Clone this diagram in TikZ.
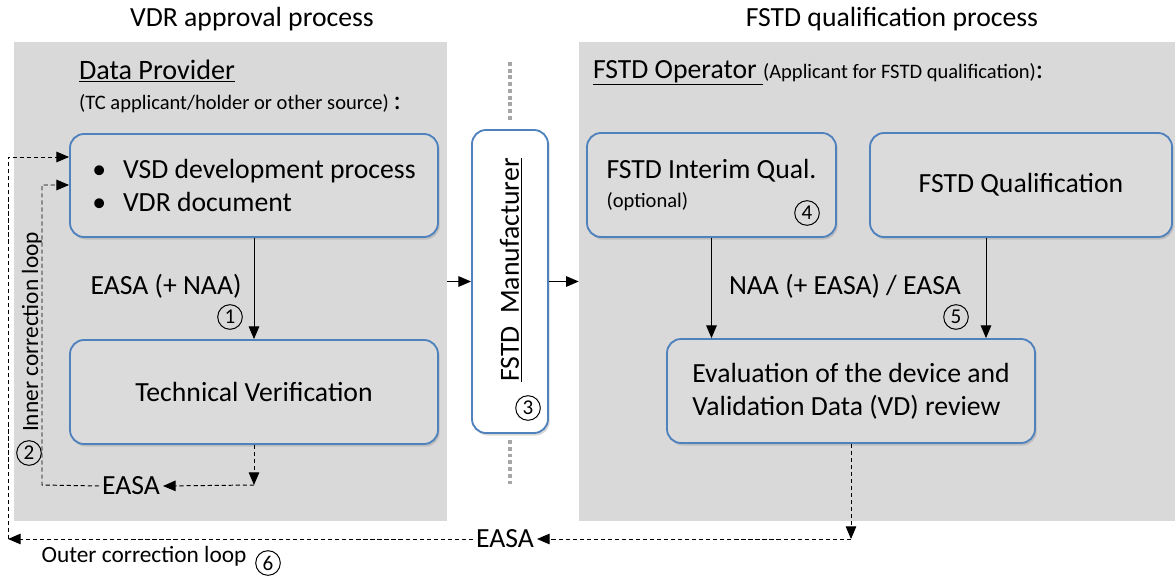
\documentclass[tikz,border=0pt]{standalone}
\usepackage{fontspec}
\setmainfont{Carlito}
\usepackage{tikz}
\usetikzlibrary{arrows.meta,shadows,fit}
\definecolor{panelgray}{HTML}{D9D9D9}
\definecolor{boxgray}{HTML}{DBDBDB}
\definecolor{boxblue}{HTML}{4F81BD}
\definecolor{dotgray}{HTML}{A6A6A6}
\newcommand{\pxu}{0.025cm}
\newcommand{\fmain}{\fontsize{19.7}{23.5}\selectfont}
\newcommand{\fhead}{\fontsize{20}{24}\selectfont}
\newcommand{\fsub}{\fontsize{14.6}{17}\selectfont}
\newcommand{\floop}{\fontsize{16.6}{20}\selectfont}
\tikzset{
  panel/.style={fill=panelgray, inner sep=0pt},
  box/.style={draw=boxblue, line width=1.3pt, rounded corners=0.35cm, fill=boxgray,
    drop shadow={shadow xshift=1.2pt, shadow yshift=-1.8pt, opacity=0.3},
    inner sep=0pt, align=center, font=\fmain},
  ttl/.style={font=\fmain, inner sep=0pt},
  lab/.style={font=\fmain, inner sep=2pt},
  numc/.style={circle, draw, line width=0.7pt, inner sep=0pt, minimum size=17.5pt,
    font=\fontsize{15}{15}\selectfont},
  arr/.style={line width=0.7pt, -{Triangle[length=9pt,width=7.5pt]}},
  darr/.style={arr, dash pattern=on 3pt off 2pt},
  dots/.style={draw=dotgray, line width=2.8pt, dash pattern=on 2.8pt off 2pt},
}

\begin{document}
\begin{tikzpicture}[x=\pxu, y=-\pxu]
  \useasboundingbox (0,0) rectangle (1175,576);
  % the two process panels
  \node[panel, fit={(14,42) (447,521)}] (pl) {};
  \node[panel, fit={(579,42) (1175,521)}] (pr) {};
  \node[ttl] (t1) at (252,19) {VDR approval process};
  \node[ttl] (t2) at (892,19) {FSTD qualification process};

  % data provider
  \node[lab, font=\fhead, anchor=west] (dp) at (76,71) {\underline{Data Provider}};
  \node[lab, font=\fsub, anchor=west] (dpsub) at (76,104) {(TC applicant/holder or other source) {\fmain:}};
  \node[box, align=left, minimum width=368*\pxu, minimum height=103*\pxu] (vsd) at (254,185.5)
    {\textbullet\hspace{12pt}VSD development process\\\textbullet\hspace{12pt}VDR document};
  \node[box, minimum width=368*\pxu, minimum height=104*\pxu] (tv) at (254,392) {Technical Verification};
  \draw[arr] (vsd.south) -- (tv.north);
  \node[lab] (e1) at (166,286) {EASA (+ NAA)};
  \node[numc] (n1) at (230,317) {1};

  % inner loop
  \coordinate (c1) at (254,485);
  \coordinate (i1) at (42,485);
  \coordinate (i2) at (42,185);
  \node[lab] (easa1) at (131,486) {EASA};
  \draw[darr] (tv.south) -- (c1);
  \draw[darr] (c1) -- (easa1.east);
  \draw[darr] (easa1.west) -- (i1) -- (i2) -- (i2 -| vsd.west);
  \node[lab, font=\floop, rotate=90] (il) at (32,332) {Inner correction loop};
  \node[numc] (n2) at (29,453) {2};

  % manufacturer
  \node[box, fill=white, minimum width=76*\pxu, minimum height=303*\pxu] (mf) at (510,281.5) {};
  \node[lab, rotate=90] (mft) at (511,270) {\underline{FSTD\ \ Manufacturer}};
  \node[numc] (n3) at (528,408) {3};
  \coordinate (d1) at (510,62);
  \coordinate (d2) at (510,122);
  \coordinate (d3) at (510,440);
  \coordinate (d4) at (510,486);
  \draw[dots] (d1) -- (d2);
  \draw[dots] (d3) -- (d4);
  \draw[arr] (pl.east |- mf) -- (mf.west);
  \draw[arr] (mf.east) -- (pr.west |- mf);

  % fstd operator
  \node[lab, anchor=west] (fo) at (590,73) {\underline{FSTD Operator\ }{\fsub(Applicant for FSTD qualification)}:};
  \node[box, align=left, minimum width=249*\pxu, minimum height=104*\pxu] (iq) at (711.5,185)
    {FSTD Interim Qual.\\[-3pt]{\fsub (optional)}};
  \node[numc] (n4) at (807,213) {4};
  \node[box, minimum width=302*\pxu, minimum height=104*\pxu] (fq) at (1021,185) {FSTD Qualification};
  \node[box, align=left, minimum width=368*\pxu, minimum height=104*\pxu] (ev) at (851,391)
    {Evaluation of the device and\\Validation Data (VD) review};
  \coordinate (q1) at (986,0);
  \draw[arr] (iq.south) -- (iq.south |- ev.north);
  \draw[arr] (fq.south -| q1) -- (ev.north -| q1);
  \node[lab] (e2) at (845,286) {NAA (+ EASA) / EASA};
  \node[numc] (n5) at (956,317) {5};

  % outer loop
  \coordinate (o1) at (851,539);
  \coordinate (o2) at (8,539);
  \coordinate (o3) at (8,157);
  \node[lab] (easa2) at (505,539) {EASA};
  \draw[darr] (ev.south) -- (o1);
  \draw[darr] (o1) -- (easa2.east);
  \draw[darr] (easa2.west) -- (o2);
  \draw[darr] (o2) -- (o3) -- (o3 -| vsd.west);
  \node[lab, font=\floop] (ol) at (144,556) {Outer correction loop};
  \node[numc] (n6) at (268,563) {6};
\end{tikzpicture}
\end{document}
